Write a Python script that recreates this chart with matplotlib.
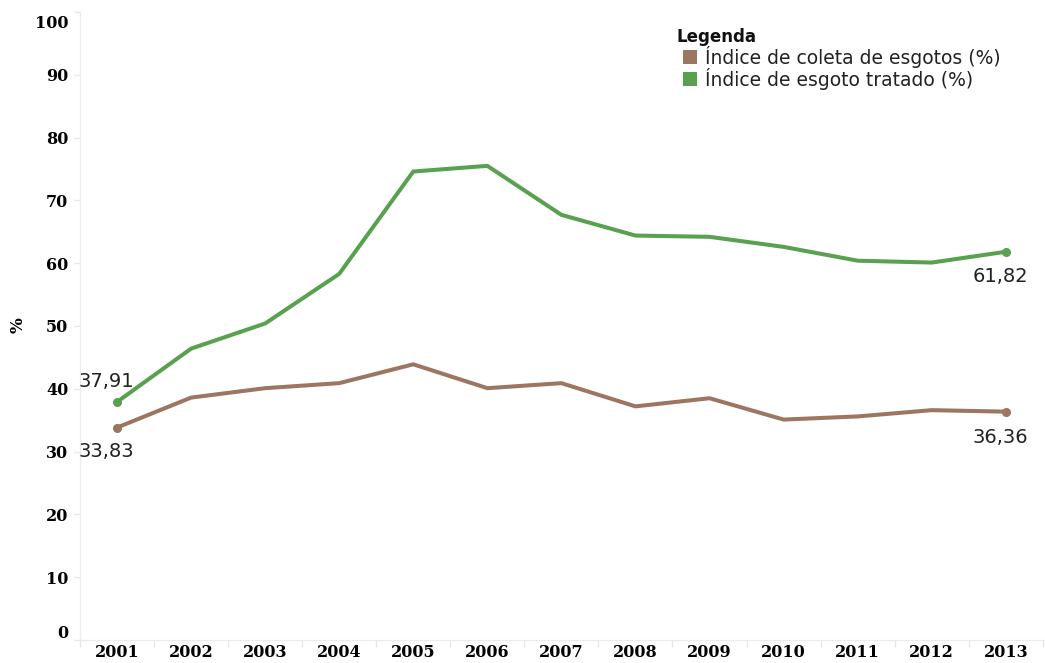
import matplotlib
matplotlib.use("Agg")
import matplotlib.pyplot as plt
import matplotlib.transforms as mtransforms
from matplotlib.patches import Rectangle
import numpy as np

years = [2001, 2002, 2003, 2004, 2005, 2006, 2007, 2008, 2009, 2010, 2011, 2012, 2013]
coleta = [33.83, 38.6, 40.1, 40.9, 43.9, 40.1, 40.9, 37.2, 38.5, 35.1, 35.6, 36.6, 36.36]
tratado = [37.91, 46.4, 50.4, 58.3, 74.6, 75.5, 67.7, 64.4, 64.2, 62.6, 60.4, 60.1, 61.82]
yticks = [0, 10, 20, 30, 40, 50, 60, 70, 80, 90, 100]
legend_labels = ["Índice de coleta de esgotos (%)", "Índice de esgoto tratado (%)"]
legend_title = "Legenda"

brown = "#9c7661"
green = "#58a14e"

W, H = 1045, 663
fig = plt.figure(figsize=(W / 100, H / 100), dpi=100)
ax = fig.add_axes([80 / W, 23 / H, (1045 - 80) / W, (640 - 12) / H])

x = np.arange(len(years))
ax.plot(x, coleta, color=brown, lw=2.9, solid_capstyle="round", solid_joinstyle="round", zorder=3)
ax.plot(x, tratado, color=green, lw=2.9, solid_capstyle="round", solid_joinstyle="round", zorder=3)
ax.plot([x[0], x[-1]], [coleta[0], coleta[-1]], "o", color=brown, ms=5.5, zorder=4)
ax.plot([x[0], x[-1]], [tratado[0], tratado[-1]], "o", color=green, ms=5.5, zorder=4)

def fmt(v):
    return f"{v:.2f}".replace(".", ",")

px = 0.75  # points per pixel at dpi 100
lab_kw = dict(fontsize=14, family="DejaVu Sans", color="#222222", zorder=5,
              textcoords="offset points", va="center")
ax.annotate(fmt(tratado[0]), (x[0], tratado[0]), xytext=(-37 * px, 20 * px), ha="left", **lab_kw)
ax.annotate(fmt(coleta[0]), (x[0], coleta[0]), xytext=(-37 * px, -23 * px), ha="left", **lab_kw)
ax.annotate(fmt(tratado[-1]), (x[-1], tratado[-1]), xytext=(-5 * px, -24 * px), ha="center", **lab_kw)
ax.annotate(fmt(coleta[-1]), (x[-1], coleta[-1]), xytext=(-5 * px, -25 * px), ha="center", **lab_kw)

ax.set_xlim(-0.5, len(years) - 0.5 + 0.03)
ax.set_ylim(0, 100)
ax.set_yticks(yticks)
ax.set_yticklabels([str(t) for t in yticks], fontsize=11.5, fontweight="bold", family="DejaVu Serif")
ax.set_xticks(x)
ax.set_xticklabels([str(y) for y in years], fontsize=11.5, fontweight="bold", family="DejaVu Serif")
ax.set_xticks(np.arange(len(years) + 1) - 0.5, minor=True)
ax.tick_params(axis="x", which="major", length=0, pad=3)
ax.tick_params(axis="x", which="minor", length=5, color="#e6e6e6", width=1)
ax.tick_params(axis="y", length=4, color="#e6e6e6", width=1, pad=4.5)

labs = ax.get_yticklabels()
labs[0].set_transform(labs[0].get_transform() + mtransforms.ScaledTranslation(0, 9 / 100, fig.dpi_scale_trans))
labs[-1].set_transform(labs[-1].get_transform() + mtransforms.ScaledTranslation(0, -10 / 100, fig.dpi_scale_trans))

for side in ("top", "right"):
    ax.spines[side].set_visible(False)
for side in ("left", "bottom"):
    ax.spines[side].set_color("#ececec")
    ax.spines[side].set_linewidth(1)

fig.text(18 / W, 1 - 325 / H, "%", rotation=90, fontsize=12, fontweight="bold",
         family="DejaVu Serif", ha="center", va="center")

# legend
fig.text(677 / W, 1 - 37 / H, legend_title, fontsize=12, fontweight="bold",
         family="DejaVu Sans", ha="left", va="center", color="#111111")
for i, (lab, col) in enumerate(zip(legend_labels, [brown, green])):
    yc = 57 + 22 * i
    fig.patches.append(Rectangle((683 / W, 1 - (yc + 7) / H), 14 / W, 14 / H,
                                 transform=fig.transFigure, facecolor=col, edgecolor="none"))
    fig.text(705 / W, 1 - yc / H, lab, fontsize=13.5, family="DejaVu Sans",
             ha="left", va="center", color="#222222")

fig.savefig("out.png", dpi=100, facecolor="white")
